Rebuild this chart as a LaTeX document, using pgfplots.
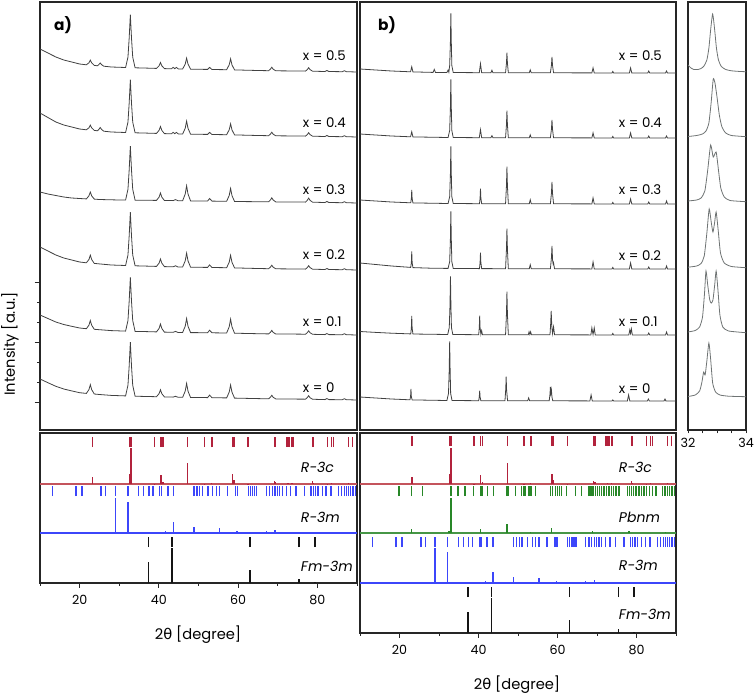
\documentclass[border=0pt]{standalone}
\usepackage{fontspec}
\setmainfont{Poppins}
\newfontfamily\dejavu{DejaVu Sans}
\usepackage{pgfplots}
\pgfplotsset{compat=1.18}
\usepackage{pgfplotstable}

\definecolor{cR}{RGB}{178,34,60}
\definecolor{cRl}{RGB}{196,84,92}
\definecolor{cB}{RGB}{60,70,250}
\definecolor{cG}{RGB}{40,135,40}
\definecolor{cGl}{RGB}{70,150,70}
\definecolor{cK}{RGB}{20,20,20}
\definecolor{cL}{RGB}{65,65,65}
\definecolor{cC}{RGB}{110,115,115}

\pgfplotsset{
 base/.style={scale only axis, axis line style={black!85, line width=0.9pt}, xmin=10, xmax=90,
   tick style={black!85, line width=0.7pt}, tick label style={font=\fontsize{9.5}{11}\selectfont},
   /pgf/number format/assume math mode=true, clip=true},
 stick/.style={draw=none, mark=none, forget plot, error bars/y dir=plus, error bars/y explicit,
   error bars/error mark=none, error bars/error bar style={draw=#1, line width=1pt}},
 hkl/.style={draw=none, mark=none, forget plot, error bars/y dir=plus, error bars/y explicit,
   error bars/error mark=none, error bars/error bar style={draw=#1, line width=1pt}},
 xrd/.style={cL, line width=0.6pt},
}
\tikzset{
 lab/.style={anchor=west, inner sep=0pt, font=\fontsize{10}{12}\selectfont},
 phase/.style={anchor=west, inner sep=0pt, font=\fontsize{10.5}{13}\selectfont\itshape},
}

% ---------- panel a (broad peaks), values relative to each baseline
\pgfplotstableread[row sep=\\]{x y\\
10 23\\ 12 19\\ 14 15\\ 16 12\\ 18 10\\ 20 8\\ 21.7 7.2\\ 22.35 9.2\\ 22.7 11.9\\ 23.05 9.1\\ 23.7 6.6\\ 24.5 6.2\\ 24.85 7.4\\ 25.2 9\\ 25.55 7.3\\ 26.1 5.8\\ 28 5\\ 31.6 4.5\\ 32.2 14.9\\ 32.5 33.5\\ 32.8 57.3\\ 33.1 33.5\\ 33.4 14.9\\ 34 4.2\\ 36 4\\ 39.4 3.6\\ 40.05 6.2\\ 40.4 9.5\\ 40.75 6.2\\ 41.4 3.4\\ 43.2 3.2\\ 43.6 4.7\\ 44 3.3\\ 44.4 4.6\\ 44.9 3.1\\ 46 3\\ 46.65 7.9\\ 47 13.9\\ 47.35 7.9\\ 48 2.8\\ 52.3 2.6\\ 52.8 4.6\\ 53.4 2.5\\ 57.1 2.3\\ 57.75 7.2\\ 58.1 13.2\\ 58.45 7.1\\ 59.1 2.1\\ 65 1.5\\ 67.7 1.3\\ 68.15 2.9\\ 68.5 4.8\\ 68.85 2.8\\ 69.5 1.2\\ 75 1\\ 77 0.9\\ 77.45 2.4\\ 77.8 4.3\\ 78.15 2.4\\ 78.8 0.8\\ 81.9 0.5\\ 82.4 1.5\\ 82.9 0.5\\ 86.3 0.3\\ 86.8 1.3\\ 87.3 0.3\\ 90 0\\
}\Afive
\pgfplotstableread[row sep=\\]{x y\\
10 24\\ 12 19.5\\ 14 15\\ 16 12\\ 18 10\\ 20 8\\ 21.7 7.2\\ 22.35 9.2\\ 22.7 11.9\\ 23.05 9.1\\ 23.7 6.6\\ 24.5 6.2\\ 24.85 7.6\\ 25.2 9.5\\ 25.55 7.5\\ 26.1 5.8\\ 28 5\\ 31.6 4.5\\ 32.2 14.9\\ 32.5 33.5\\ 32.8 57.3\\ 33.1 33.5\\ 33.4 14.9\\ 34 4.2\\ 36 4\\ 39.4 3.6\\ 40.05 6.7\\ 40.4 10.5\\ 40.75 6.6\\ 41.4 3.4\\ 43.2 3.2\\ 43.6 4.7\\ 44 3.3\\ 44.4 4.6\\ 44.9 3.1\\ 46 3\\ 46.65 8.8\\ 47 15.9\\ 47.35 8.7\\ 48 2.8\\ 52.3 2.6\\ 52.8 4.6\\ 53.4 2.5\\ 57.1 2.3\\ 57.75 7.2\\ 58.1 13.2\\ 58.45 7.1\\ 59.1 2.1\\ 65 1.5\\ 67.7 1.3\\ 68.15 2.9\\ 68.5 4.8\\ 68.85 2.8\\ 69.5 1.2\\ 75 1\\ 77 0.9\\ 77.45 2.4\\ 77.8 4.3\\ 78.15 2.4\\ 78.8 0.8\\ 81.9 0.5\\ 82.4 1.5\\ 82.9 0.5\\ 86.3 0.3\\ 86.8 1.3\\ 87.3 0.3\\ 90 0\\
}\Afour
\pgfplotstableread[row sep=\\]{x y\\
10 11\\ 12 9\\ 14 7.5\\ 16 6\\ 18 5\\ 20 4.5\\ 21.7 4.1\\ 22.35 7.2\\ 22.7 11\\ 23.05 7.1\\ 23.7 3.9\\ 25 3.5\\ 30 3\\ 31.6 3\\ 32.2 13.7\\ 32.5 32.6\\ 32.8 56.9\\ 33.1 32.6\\ 33.4 13.7\\ 34 2.8\\ 36 2.8\\ 39.4 2.6\\ 40.05 5.9\\ 40.4 10\\ 40.75 5.8\\ 41.4 2.5\\ 43.6 2.4\\ 44.2 3.4\\ 44.8 2.3\\ 46 2.3\\ 46.65 9\\ 47 17.2\\ 47.35 9\\ 48 2.1\\ 52.3 2\\ 52.8 4.5\\ 53.4 1.9\\ 57.1 1.7\\ 57.75 7.5\\ 58.1 14.6\\ 58.45 7.4\\ 59.1 1.5\\ 65 1.3\\ 67.7 1.2\\ 68.15 3\\ 68.5 5.2\\ 68.85 3\\ 69.5 1.1\\ 75 1\\ 77 0.9\\ 77.45 2.7\\ 77.8 4.9\\ 78.15 2.7\\ 78.8 0.8\\ 81.9 0.5\\ 82.4 1.5\\ 82.9 0.5\\ 86.3 0.3\\ 86.8 1.3\\ 87.3 0.3\\ 90 0\\
}\Athree
\pgfplotstableread[row sep=\\]{x y\\
10 23\\ 12 19\\ 14 15\\ 16 12\\ 18 10\\ 20 8\\ 21.7 7.2\\ 22.35 10.5\\ 22.7 14.9\\ 23.05 10.4\\ 23.7 6.6\\ 25 6.1\\ 28 5\\ 31.6 4.5\\ 32.2 15\\ 32.5 33.7\\ 32.8 57.8\\ 33.1 33.7\\ 33.4 15\\ 34 4.2\\ 36 4\\ 39.4 3.6\\ 40.05 6.9\\ 40.4 11\\ 40.75 6.8\\ 41.4 3.4\\ 43.6 3.2\\ 44.2 4.2\\ 44.8 3.1\\ 46 3\\ 46.65 9.2\\ 47 16.9\\ 47.35 9.2\\ 48 2.8\\ 52.3 2.6\\ 52.8 5.1\\ 53.4 2.5\\ 57.1 2.3\\ 57.75 7.8\\ 58.1 14.7\\ 58.45 7.7\\ 59.1 2.1\\ 65 1.5\\ 67.7 1.3\\ 68.15 2.9\\ 68.5 4.8\\ 68.85 2.8\\ 69.5 1.2\\ 75 1\\ 77 0.9\\ 77.45 2.4\\ 77.8 4.3\\ 78.15 2.4\\ 78.8 0.8\\ 81.9 0.5\\ 82.4 1.5\\ 82.9 0.5\\ 86.3 0.3\\ 86.8 1.3\\ 87.3 0.3\\ 90 0\\
}\Atwo
\pgfplotstableread[row sep=\\]{x y\\
10 20\\ 12 16.5\\ 14 13\\ 16 10.5\\ 18 8.7\\ 20 7\\ 21.7 6.3\\ 22.35 9.8\\ 22.7 14.5\\ 23.05 9.7\\ 23.7 5.7\\ 25 5.3\\ 28 4.4\\ 31.6 3.9\\ 32.2 14.5\\ 32.5 33.4\\ 32.8 57.7\\ 33.1 33.4\\ 33.4 14.5\\ 34 3.6\\ 36 3.5\\ 39.4 3.1\\ 40.05 6.6\\ 40.4 11\\ 40.75 6.5\\ 41.4 2.9\\ 43.6 2.7\\ 44.2 3.6\\ 44.8 2.6\\ 46 2.6\\ 46.65 8.8\\ 47 16.5\\ 47.35 8.8\\ 48 2.4\\ 52.3 2.3\\ 52.8 4.8\\ 53.4 2.2\\ 57.1 2\\ 57.75 8.2\\ 58.1 15.9\\ 58.45 8.1\\ 59.1 1.8\\ 65 1.3\\ 67.7 1.1\\ 68.15 2.7\\ 68.5 4.6\\ 68.85 2.6\\ 69.5 1\\ 75 0.9\\ 77 0.8\\ 77.45 2.3\\ 77.8 4.2\\ 78.15 2.3\\ 78.8 0.7\\ 81.9 0.4\\ 82.4 1.4\\ 82.9 0.4\\ 86.3 0.3\\ 86.8 1.3\\ 87.3 0.3\\ 90 0\\
}\Aone
\pgfplotstableread[row sep=\\]{x y\\
10 21\\ 12 17.3\\ 14 13.7\\ 16 11\\ 18 9.1\\ 20 7.3\\ 21.7 6.6\\ 22.35 10.4\\ 22.7 15.3\\ 23.05 10.3\\ 23.7 6\\ 25 5.5\\ 28 4.6\\ 31.6 4.1\\ 32.2 14.9\\ 32.5 33.6\\ 32.8 57.9\\ 33.1 33.6\\ 33.4 14.7\\ 34 3.8\\ 36 3.6\\ 39.4 3.3\\ 40.05 6.4\\ 40.4 10.2\\ 40.75 6.3\\ 41.4 3.1\\ 43.6 2.9\\ 44.2 3.7\\ 44.8 2.8\\ 46 2.7\\ 46.65 8.9\\ 47 16.6\\ 47.35 8.9\\ 48 2.5\\ 52.3 2.4\\ 52.8 4.9\\ 53.4 2.3\\ 57.1 2.1\\ 57.75 7.9\\ 58.1 15\\ 58.45 7.8\\ 59.1 1.9\\ 65 1.4\\ 67.7 1.2\\ 68.15 2.8\\ 68.5 4.7\\ 68.85 2.7\\ 69.5 1.1\\ 75 0.9\\ 77 0.85\\ 77.45 2.4\\ 77.8 4.3\\ 78.15 2.3\\ 78.8 0.75\\ 81.9 0.4\\ 82.4 1.4\\ 82.9 0.4\\ 86.3 0.3\\ 86.8 1.3\\ 87.3 0.3\\ 90 0\\
}\Azero

% ---------- panel b (sharp peaks)
\pgfplotstableread[row sep=\\]{x y\\
10 4\\ 14 3\\ 18 2\\ 22.8 1.2\\ 23.1 6.2\\ 23.4 1.1\\ 28.5 0.6\\ 28.8 3.6\\ 29.1 0.6\\ 32 0.5\\ 32.3 3\\ 32.5 0.8\\ 32.7 7.5\\ 32.88 30\\ 33 59.5\\ 33.12 30\\ 33.25 7.5\\ 33.6 0.5\\ 40.2 0.3\\ 40.5 9.3\\ 40.8 0.3\\ 43.15 0.3\\ 43.4 2.8\\ 43.65 0.3\\ 46.85 0.3\\ 47.08 10\\ 47.2 20.3\\ 47.32 10\\ 47.55 0.3\\ 52.85 0.2\\ 53.1 3.2\\ 53.35 0.2\\ 58.2 0.2\\ 58.47 8\\ 58.6 16.2\\ 58.73 8\\ 59 0.2\\ 68.7 0.1\\ 69 5.1\\ 69.3 0.1\\ 73.8 0.1\\ 74 1.6\\ 74.2 0.1\\ 78.2 0.1\\ 78.5 5.1\\ 78.8 0.1\\ 82.85 0\\ 83.1 2\\ 83.35 0\\ 87.35 0\\ 87.6 2\\ 87.85 0\\ 90 0\\
}\Bfive
\pgfplotstableread[row sep=\\]{x y\\
10 4\\ 14 3\\ 18 2\\ 22.8 1.2\\ 23.1 6.2\\ 23.4 1.1\\ 32.3 0.5\\ 32.7 7.5\\ 32.88 29.5\\ 33 58.5\\ 33.12 29.5\\ 33.25 7.5\\ 33.6 0.5\\ 40.2 0.3\\ 40.5 8.3\\ 40.8 0.3\\ 43.15 0.3\\ 43.4 2.3\\ 43.65 0.3\\ 46.85 0.3\\ 47.08 13.5\\ 47.2 27.3\\ 47.32 13.5\\ 47.55 0.3\\ 52.85 0.2\\ 53.1 3.2\\ 53.35 0.2\\ 58.2 0.2\\ 58.47 9\\ 58.6 18.2\\ 58.73 9\\ 59 0.2\\ 68.7 0.1\\ 69 5.1\\ 69.3 0.1\\ 73.8 0.1\\ 74 1.6\\ 74.2 0.1\\ 78.2 0.1\\ 78.5 5.1\\ 78.8 0.1\\ 82.85 0\\ 83.1 2\\ 83.35 0\\ 87.35 0\\ 87.6 2\\ 87.85 0\\ 90 0\\
}\Bfour
\pgfplotstableread[row sep=\\]{x y\\
10 4\\ 14 3\\ 18 2\\ 22.85 1.2\\ 23 5.5\\ 23.1 14.2\\ 23.2 5.5\\ 23.4 1.1\\ 32.3 0.5\\ 32.7 7.3\\ 32.88 29\\ 33 57.5\\ 33.12 29\\ 33.25 7.3\\ 33.6 0.5\\ 40.25 0.3\\ 40.4 6\\ 40.5 15.3\\ 40.6 6\\ 40.8 0.3\\ 46.85 0.3\\ 47.08 18.5\\ 47.2 37.3\\ 47.32 18.5\\ 47.55 0.3\\ 52.85 0.2\\ 53.1 4.2\\ 53.35 0.2\\ 58.2 0.2\\ 58.47 11\\ 58.6 22.2\\ 58.73 11\\ 59 0.2\\ 68.7 0.1\\ 69 6.1\\ 69.3 0.1\\ 73.8 0.1\\ 74 1.6\\ 74.2 0.1\\ 78.2 0.1\\ 78.5 5.1\\ 78.8 0.1\\ 82.85 0\\ 83.1 2\\ 83.35 0\\ 87.35 0\\ 87.6 3\\ 87.85 0\\ 90 0\\
}\Bthree
\pgfplotstableread[row sep=\\]{x y\\
10 6\\ 14 4.5\\ 18 3\\ 22.85 1.6\\ 23 6.5\\ 23.1 17.5\\ 23.2 6.5\\ 23.4 1.4\\ 28 0.8\\ 32.3 0.6\\ 32.7 7.3\\ 32.88 29\\ 33 57.5\\ 33.12 29\\ 33.25 7.3\\ 33.6 0.5\\ 40.25 0.4\\ 40.4 6.5\\ 40.5 16.4\\ 40.6 6.5\\ 40.8 0.4\\ 46.85 0.3\\ 47.08 20\\ 47.2 40.3\\ 47.32 20\\ 47.55 0.3\\ 52.85 0.2\\ 53.1 4.2\\ 53.35 0.2\\ 58.2 0.2\\ 58.47 11.5\\ 58.6 23.2\\ 58.75 9\\ 58.9 5\\ 59 6.2\\ 59.25 0.2\\ 68.7 0.1\\ 69 7.1\\ 69.3 0.1\\ 73.8 0.1\\ 74 1.6\\ 74.2 0.1\\ 78.2 0.1\\ 78.5 6.1\\ 78.8 0.1\\ 82.85 0\\ 83.1 2\\ 83.35 0\\ 87.35 0\\ 87.6 3\\ 87.85 0\\ 90 0\\
}\Btwo
\pgfplotstableread[row sep=\\]{x y\\
10 3.5\\ 14 2.6\\ 18 1.8\\ 22.85 1.1\\ 23 7\\ 23.1 19\\ 23.2 7\\ 23.4 1\\ 32.2 0.5\\ 32.6 7.5\\ 32.78 29.5\\ 32.9 58.5\\ 33.02 29.5\\ 33.15 7.5\\ 33.5 0.5\\ 40.05 0.3\\ 40.2 7.5\\ 40.3 19.3\\ 40.4 7.5\\ 40.6 0.8\\ 40.8 4.3\\ 41 0.3\\ 46.85 0.3\\ 47.08 21.5\\ 47.2 43.3\\ 47.32 21.5\\ 47.55 0.3\\ 52.6 0.2\\ 52.8 3.2\\ 53 0.5\\ 53.2 3.2\\ 53.4 0.2\\ 58.1 0.2\\ 58.28 12\\ 58.4 24.2\\ 58.55 9\\ 58.75 1.5\\ 59 8.2\\ 59.25 0.2\\ 68.45 0.1\\ 68.7 7.1\\ 69 0.5\\ 69.3 7.1\\ 69.55 0.1\\ 73.8 0.1\\ 74 1.6\\ 74.2 0.1\\ 78.05 0.1\\ 78.3 5.1\\ 78.5 1.5\\ 78.7 6.1\\ 78.95 0.1\\ 82.85 0\\ 83.1 2\\ 83.35 0\\ 87.35 0\\ 87.6 3\\ 87.85 0\\ 90 0\\
}\Bone
\pgfplotstableread[row sep=\\]{x y\\
10 4\\ 14 3\\ 18 2\\ 22.65 1.2\\ 22.8 4.5\\ 22.9 12.2\\ 23 4.5\\ 23.2 1.1\\ 32 0.5\\ 32.4 7.5\\ 32.58 30\\ 32.7 59.5\\ 32.82 30\\ 32.95 7.5\\ 33.3 0.5\\ 40.05 0.3\\ 40.2 4.2\\ 40.3 10.3\\ 40.4 4.2\\ 40.6 0.3\\ 46.7 0.3\\ 46.9 12\\ 47 24.3\\ 47.1 12\\ 47.35 0.3\\ 52.45 0.2\\ 52.7 3.2\\ 52.95 0.2\\ 57.9 0.2\\ 58.1 7\\ 58.2 14.2\\ 58.32 8\\ 58.45 11.2\\ 58.6 4\\ 58.8 0.2\\ 68.2 0.1\\ 68.5 6.1\\ 68.8 0.1\\ 73.8 0.1\\ 74 1.1\\ 74.2 0.1\\ 77.7 0.1\\ 78 6.1\\ 78.3 0.1\\ 82.75 0\\ 83 2\\ 83.25 0\\ 86.95 0\\ 87.2 2\\ 87.45 0\\ 90 0\\
}\Bzero

% ---------- panel c (zoom 32-34)
\pgfplotstableread[row sep=\\]{x y\\
32 7\\ 32.1 4\\ 32.2 2.5\\ 32.35 2.5\\ 32.45 3.5\\ 32.55 6\\ 32.65 12\\ 32.72 24\\ 32.78 42\\ 32.85 58\\ 32.92 42\\ 32.98 24\\ 33.05 12\\ 33.15 5.5\\ 33.3 2.5\\ 33.5 1.2\\ 33.8 0.5\\ 34 0.3\\
}\Cfive
\pgfplotstableread[row sep=\\]{x y\\
32 0.5\\ 32.3 1.5\\ 32.5 3\\ 32.62 6\\ 32.72 14\\ 32.8 35\\ 32.87 58\\ 32.93 54\\ 33 40\\ 33.08 22\\ 33.17 10\\ 33.3 4\\ 33.5 1.5\\ 34 0.3\\
}\Cfour
\pgfplotstableread[row sep=\\]{x y\\
32 1\\ 32.3 2\\ 32.45 4\\ 32.58 11\\ 32.68 32\\ 32.78 57\\ 32.87 45\\ 32.97 50\\ 33.05 32\\ 33.13 14\\ 33.25 5\\ 33.45 1.5\\ 34 0.3\\
}\Cthree
\pgfplotstableread[row sep=\\]{x y\\
32 0.8\\ 32.3 2\\ 32.45 4.5\\ 32.56 12\\ 32.65 35\\ 32.73 59\\ 32.8 46\\ 32.86 36\\ 32.92 46\\ 32.97 56\\ 33.04 38\\ 33.12 15\\ 33.25 5\\ 33.5 1.5\\ 34 0.3\\
}\Ctwo
\pgfplotstableread[row sep=\\]{x y\\
32 1\\ 32.25 2.5\\ 32.4 6\\ 32.5 16\\ 32.57 40\\ 32.62 62\\ 32.68 48\\ 32.75 33\\ 32.8 30\\ 32.86 33\\ 32.92 48\\ 32.97 62\\ 33.03 44\\ 33.1 18\\ 33.2 6\\ 33.4 2\\ 34 0.3\\
}\Cone
\pgfplotstableread[row sep=\\]{x y\\
32 0.5\\ 32.25 2\\ 32.4 6\\ 32.48 15\\ 32.54 25\\ 32.59 22\\ 32.65 36\\ 32.72 54\\ 32.78 38\\ 32.85 14\\ 32.95 5\\ 33.1 2\\ 33.4 0.8\\ 34 0.3\\
}\Czero

% ---------- reference patterns (x = position, h = stick or mark length)
\pgfplotstableread[row sep=\\]{x h\\ 23.2 10\\ 32.7 10\\ 33.0 10\\ 38.9 10\\ 40.5 10\\ 41.0 10\\ 47.3 10\\ 51.5 10\\ 53.2 10\\ 53.4 10\\ 58.6 10\\ 59.0 10\\ 62.5 10\\ 69.1 10\\ 69.5 10\\ 72.3 10\\ 72.6 10\\ 73.0 10\\ 73.6 10\\ 74.0 10\\ 78.7 10\\ 79.0 10\\ 82.6 10\\ 83.6 10\\ 84.0 10\\ 87.9 10\\ 88.8 10\\}\RT
\pgfplotstableread[row sep=\\]{x h\\ 23.2 7\\ 32.7 10\\ 33.0 36\\ 38.9 0.5\\ 40.5 9\\ 41.0 2.5\\ 47.3 21\\ 51.5 0.5\\ 53.2 1.5\\ 58.6 10\\ 59.0 4\\ 62.5 0.5\\ 69.1 3\\ 69.5 2.5\\ 72.6 1\\ 73.6 1\\ 78.7 3\\ 79.0 1.5\\ 82.6 0.5\\ 83.6 1\\ 87.9 1.5\\}\RS
\pgfplotstableread[row sep=\\]{x h\\ 13.2 10\\ 19.1 10\\ 20.6 10\\ 25.4 10\\ 26.5 10\\ 29.0 10\\ 32.2 10\\ 34.9 10\\ 36.2 10\\ 37.5 10\\ 38.5 10\\ 40.2 10\\ 40.6 10\\ 42.1 10\\ 42.3 10\\ 43.7 10\\ 48.9 10\\ 49.6 10\\ 50.3 10\\ 51.0 10\\ 52.4 10\\ 53.6 10\\ 54.5 10\\ 55.3 10\\ 57.3 10\\ 59.4 10\\ 59.9 10\\ 62.6 10\\ 63.1 10\\ 63.7 10\\ 64.2 10\\ 64.7 10\\ 67.1 10\\ 68.0 10\\ 68.6 10\\ 69.3 10\\ 69.9 10\\ 70.5 10\\ 71.2 10\\ 72.2 10\\ 73.3 10\\ 74.6 10\\ 76.8 10\\ 78.4 10\\ 79.0 10\\ 79.6 10\\ 80.2 10\\ 81.3 10\\ 82.2 10\\ 83.4 10\\ 85.3 10\\ 86.1 10\\ 86.8 10\\ 87.4 10\\ 87.9 10\\ 88.4 10\\ 89.0 10\\ 89.6 10\\}\BT
\pgfplotstableread[row sep=\\]{x h\\ 25.4 0.5\\ 29.0 35\\ 32.2 31\\ 38.5 1.5\\ 40.2 1.5\\ 41.7 2\\ 42.1 1.5\\ 43.7 11\\ 48.9 6\\ 52.4 0.5\\ 55.3 5.5\\ 57.3 1.5\\ 59.7 2\\ 67.1 2\\ 69.3 3\\ 74.6 1\\ 79.0 1\\ 83.4 0.5\\ 87.4 1\\}\BS
\pgfplotstableread[row sep=\\]{x h\\ 19.9 10\\ 23.1 10\\ 25.9 10\\ 32.9 10\\ 33.2 10\\ 34.8 10\\ 36.6 10\\ 38.7 10\\ 40.5 10\\ 40.9 10\\ 42.3 10\\ 43.8 10\\ 47.1 10\\ 47.5 10\\ 49.3 10\\ 50.9 10\\ 51.4 10\\ 51.8 10\\ 52.7 10\\ 53.0 10\\ 53.4 10\\ 54.4 10\\ 58.2 10\\ 58.7 10\\ 59.5 10\\ 60.0 10\\ 60.5 10\\ 61.0 10\\ 62.3 10\\ 64.6 10\\ 66.1 10\\ 68.0 10\\ 68.5 10\\ 69.0 10\\ 69.6 10\\ 70.2 10\\ 70.7 10\\ 71.2 10\\ 71.8 10\\ 72.4 10\\ 73.0 10\\ 73.6 10\\ 74.2 10\\ 74.8 10\\ 75.6 10\\ 77.7 10\\ 78.2 10\\ 78.7 10\\ 79.3 10\\ 79.9 10\\ 80.6 10\\ 81.2 10\\ 81.9 10\\ 82.6 10\\ 83.3 10\\ 84.1 10\\ 84.9 10\\ 86.6 10\\ 87.2 10\\ 87.8 10\\ 88.4 10\\ 89.0 10\\ 89.6 10\\}\GT
\pgfplotstableread[row sep=\\]{x h\\ 23.1 4\\ 32.5 2\\ 33.0 35\\ 40.5 4.5\\ 47.2 9\\ 53.1 1.5\\ 58.5 5\\ 68.9 2.5\\ 78.1 2\\ 87.3 1\\}\GS
\pgfplotstableread[row sep=\\]{x h\\ 37.3 10\\ 43.3 10\\ 63.0 10\\ 75.4 10\\ 79.4 10\\}\KT
\pgfplotstableread[row sep=\\]{x h\\ 37.3 21\\ 43.3 35\\ 63.0 13\\ 75.4 4\\ 79.4 1.5\\}\KS

\begin{document}
\begin{tikzpicture}
\path[use as bounding box] (0,0) rectangle (567pt,-522pt);

% ===== panel a, patterns
\begin{axis}[base, at={(30pt,-1.5pt)}, anchor=north west, width=237.75pt, height=321pt,
  ymin=0, ymax=428, xtick=\empty, ytick={28,88,148}, minor ytick={48,68,108,128},
  yticklabels={}, ytick pos=left, tick align=outside, major tick length=4pt, minor tick length=2.2pt]
\addplot[xrd] table[x=x, y expr=\thisrow{y}+358]{\Afive};
\addplot[xrd] table[x=x, y expr=\thisrow{y}+293]{\Afour};
\addplot[xrd] table[x=x, y expr=\thisrow{y}+227]{\Athree};
\addplot[xrd] table[x=x, y expr=\thisrow{y}+160]{\Atwo};
\addplot[xrd] table[x=x, y expr=\thisrow{y}+95]{\Aone};
\addplot[xrd] table[x=x, y expr=\thisrow{y}+30]{\Azero};
\node[lab] at (axis cs:76.3,374) {x = 0.5};
\node[lab] at (axis cs:76.3,307) {x = 0.4};
\node[lab] at (axis cs:76.3,240) {x = 0.3};
\node[lab] at (axis cs:76.3,175) {x = 0.2};
\node[lab] at (axis cs:76.3,108) {x = 0.1};
\node[lab] at (axis cs:76.3,42) {x = 0};
\end{axis}

% ===== panel a, references
\begin{axis}[base, at={(30pt,-324.75pt)}, anchor=north west, width=237.75pt, height=112.5pt,
  ymin=0, ymax=150, ytick=\empty, xtick={20,40,60,80}, minor xtick={10,30,50,70,90},
  xtick pos=bottom, tick align=outside, major tick length=3.5pt, minor tick length=2.2pt,
  xticklabel style={yshift=-2pt}]
\addplot[cRl, line width=1.3pt] coordinates {(10,99) (90,99)};
\addplot[hkl=cR] table[x=x, y expr=136, y error=h]{\RT};
\addplot[stick=cR] table[x=x, y expr=99, y error=h]{\RS};
\addplot[cB, line width=1.1pt] coordinates {(10,50) (90,50)};
\addplot[hkl=cB] table[x=x, y expr=87, y error=h]{\BT};
\addplot[stick=cB] table[x=x, y expr=50, y error=h]{\BS};
\addplot[hkl=cK] table[x=x, y expr=36, y error=h]{\KT};
\addplot[stick=cK] table[x=x, y expr=0, y error=h]{\KS};
\node[phase] at (axis cs:75.8,116) {R-3c};
\node[phase] at (axis cs:75.8,66) {R-3m};
\node[phase] at (axis cs:75.8,17) {Fm-3m};
\end{axis}

% ===== panel b, patterns
\begin{axis}[base, at={(270pt,-1.5pt)}, anchor=north west, width=237pt, height=321pt,
  ymin=0, ymax=428, xtick=\empty, ytick=\empty]
\addplot[xrd] table[x=x, y expr=\thisrow{y}+357]{\Bfive};
\addplot[xrd] table[x=x, y expr=\thisrow{y}+292]{\Bfour};
\addplot[xrd] table[x=x, y expr=\thisrow{y}+226]{\Bthree};
\addplot[xrd] table[x=x, y expr=\thisrow{y}+161]{\Btwo};
\addplot[xrd] table[x=x, y expr=\thisrow{y}+95]{\Bone};
\addplot[xrd] table[x=x, y expr=\thisrow{y}+29]{\Bzero};
\node[lab] at (axis cs:75.5,374) {x = 0.5};
\node[lab] at (axis cs:75.5,307) {x = 0.4};
\node[lab] at (axis cs:75.5,240) {x = 0.3};
\node[lab] at (axis cs:75.5,174) {x = 0.2};
\node[lab] at (axis cs:75.5,108) {x = 0.1};
\node[lab] at (axis cs:75.5,41) {x = 0};
\end{axis}

% ===== panel b, references
\begin{axis}[base, at={(270pt,-324.75pt)}, anchor=north west, width=237pt, height=150pt,
  ymin=0, ymax=200, ytick=\empty, xtick={20,40,60,80}, minor xtick={10,30,50,70,90},
  xtick pos=bottom, tick align=outside, major tick length=3.5pt, minor tick length=2.2pt,
  xticklabel style={yshift=-2pt}]
\addplot[cRl, line width=1.3pt] coordinates {(10,149) (90,149)};
\addplot[hkl=cR] table[x=x, y expr=187, y error=h]{\RT};
\addplot[stick=cR] table[x=x, y expr=149, y error=h]{\RS};
\addplot[cGl, line width=1.3pt] coordinates {(10,100) (90,100)};
\addplot[hkl=cG] table[x=x, y expr=137, y error=h]{\GT};
\addplot[stick=cG] table[x=x, y expr=100, y error=h]{\GS};
\addplot[cB, line width=1.1pt] coordinates {(10,50) (90,50)};
\addplot[hkl=cB] table[x=x, y expr=86, y error=h]{\BT};
\addplot[stick=cB] table[x=x, y expr=50, y error=h]{\BS};
\addplot[hkl=cK] table[x=x, y expr=36, y error=h]{\KT};
\addplot[stick=cK] table[x=x, y expr=0, y error=h]{\KS};
\node[phase] at (axis cs:75.5,166) {R-3c};
\node[phase] at (axis cs:75.5,116) {Pbnm};
\node[phase] at (axis cs:75.5,68) {R-3m};
\node[phase] at (axis cs:75.5,19) {Fm-3m};
\end{axis}

% ===== panel c, 32-34 zoom
\begin{axis}[base, at={(516pt,-1.5pt)}, anchor=north west, width=43.5pt, height=321pt,
  xmin=32, xmax=34, ymin=0, ymax=428, ytick=\empty, xtick={32,34}, minor xtick={32.5,33,33.5},
  xtick pos=bottom, tick align=outside, major tick length=2.5pt, minor tick length=2.5pt]
\addplot[cC, line width=0.6pt, smooth, tension=0.35] table[x=x, y expr=\thisrow{y}+358]{\Cfive};
\addplot[cC, line width=0.6pt, smooth, tension=0.35] table[x=x, y expr=\thisrow{y}+293]{\Cfour};
\addplot[cC, line width=0.6pt, smooth, tension=0.35] table[x=x, y expr=\thisrow{y}+228]{\Cthree};
\addplot[cC, line width=0.6pt, smooth, tension=0.35] table[x=x, y expr=\thisrow{y}+162]{\Ctwo};
\addplot[cC, line width=0.6pt, smooth, tension=0.35] table[x=x, y expr=\thisrow{y}+97]{\Cone};
\addplot[cC, line width=0.6pt, smooth, tension=0.35] table[x=x, y expr=\thisrow{y}+33]{\Czero};
\end{axis}

% ===== labels
\node[font=\fontsize{11.5}{13}\selectfont\bfseries] at (47.25pt,-18.75pt) {a)};
\node[font=\fontsize{11.5}{13}\selectfont\bfseries] at (290.25pt,-18.75pt) {b)};
\node[rotate=90, font=\fontsize{11}{13}\selectfont] at (7.5pt,-258pt) {Intensity [a.u.]};
\node[font=\fontsize{11}{13}\selectfont] at (148.5pt,-476pt) {2{\dejavu θ} [degree]};
\node[font=\fontsize{11}{13}\selectfont] at (387.75pt,-513.75pt) {2{\dejavu θ} [degree]};
\end{tikzpicture}
\end{document}
